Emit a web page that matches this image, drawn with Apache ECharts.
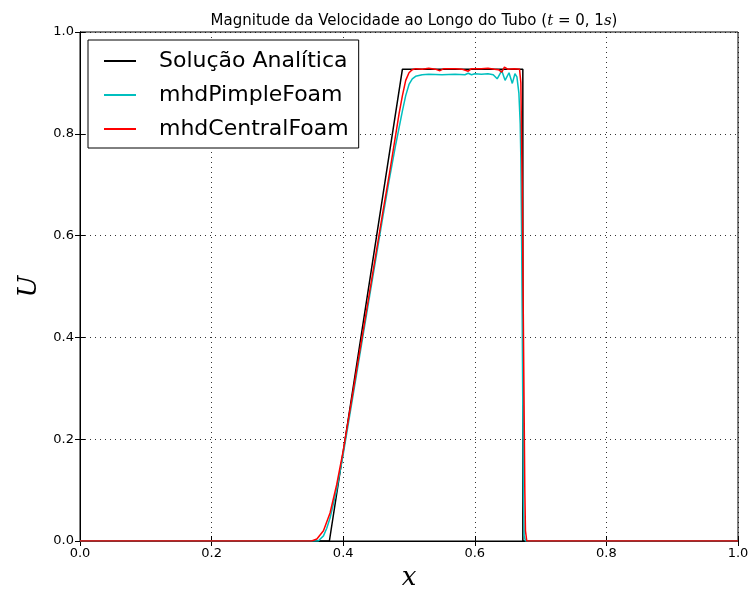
<!DOCTYPE html>
<html>
<head>
<meta charset="utf-8">
<script src="https://cdn.jsdelivr.net/npm/echarts@6/dist/echarts.min.js"></script>
<style>html,body{margin:0;padding:0;background:#fff}#c{width:749px;height:594px}</style>
</head>
<body>
<div id="c"></div>
<script>
// Tick labels
var xTicks = [0.0, 0.2, 0.4, 0.6, 0.8, 1.0];
var yTicks = [0.0, 0.2, 0.4, 0.6, 0.8, 1.0];
var seriesNames = ['Solução Analítica', 'mhdPimpleFoam', 'mhdCentralFoam'];

// Analytic solution
var analyticX = [0.0, 0.379, 0.490, 0.673, 0.673, 1.0];
var analyticU = [0.0, 0.0, 0.927, 0.927, 0.0, 0.0];

// mhdPimpleFoam
var pimpleX = [0.0, 0.362, 0.37, 0.375, 0.38, 0.39, 0.40, 0.42, 0.44, 0.46, 0.47, 0.48, 0.49, 0.495, 0.50, 0.505, 0.51, 0.52, 0.53, 0.55, 0.57, 0.585, 0.59, 0.595, 0.60, 0.61, 0.62, 0.628, 0.634, 0.641, 0.646, 0.652, 0.657, 0.661, 0.664, 0.667, 0.669, 0.670, 0.671, 0.672, 0.673, 0.674, 0.675, 0.677, 1.0];
var pimpleU = [0.0, 0.0, 0.01, 0.025, 0.045, 0.10, 0.17, 0.325, 0.48, 0.635, 0.71, 0.78, 0.845, 0.875, 0.897, 0.908, 0.913, 0.916, 0.917, 0.916, 0.917, 0.916, 0.919, 0.916, 0.918, 0.917, 0.918, 0.916, 0.908, 0.924, 0.905, 0.920, 0.899, 0.918, 0.912, 0.88, 0.82, 0.75, 0.62, 0.45, 0.25, 0.08, 0.01, 0.0, 0.0];

// mhdCentralFoam
var centralX = [0.0, 0.352, 0.36, 0.37, 0.38, 0.39, 0.40, 0.42, 0.44, 0.46, 0.47, 0.48, 0.485, 0.49, 0.495, 0.50, 0.505, 0.51, 0.52, 0.53, 0.54, 0.547, 0.553, 0.57, 0.58, 0.59, 0.595, 0.61, 0.62, 0.63, 0.636, 0.641, 0.645, 0.65, 0.66, 0.668, 0.670, 0.672, 0.674, 0.676, 0.677, 0.679, 1.0];
var centralU = [0.0, 0.0, 0.004, 0.02, 0.055, 0.11, 0.177, 0.333, 0.488, 0.644, 0.72, 0.80, 0.84, 0.875, 0.905, 0.92, 0.926, 0.928, 0.927, 0.929, 0.927, 0.924, 0.928, 0.928, 0.927, 0.923, 0.928, 0.928, 0.929, 0.927, 0.926, 0.921, 0.931, 0.927, 0.928, 0.927, 0.90, 0.70, 0.40, 0.10, 0.02, 0.0, 0.0];

function pairs(xs, ys) { return xs.map(function (x, i) { return [x, ys[i]]; }); }

var chart = echarts.init(document.getElementById('c'), null, { renderer: 'canvas' });
var sans = 'DejaVu Sans';
var mathFont = 'DejaVu Serif';

var splitLine = { show: true, lineStyle: { color: '#000', width: 1, type: [1, 4], opacity: 0.8 } };
var tick = { show: true, inside: true, length: 5, lineStyle: { color: '#000', width: 1 } };

chart.setOption({
  animation: false,
  backgroundColor: '#fff',
  title: {
    text: 'Magnitude da Velocidade ao Longo do Tubo ({m|t} = 0, 1{m|s})',
    left: 409, textAlign: 'center', top: 9,
    textStyle: {
      fontFamily: sans, fontSize: 15, fontWeight: 'normal', color: '#000',
      rich: { m: { fontFamily: mathFont, fontStyle: 'italic', fontSize: 15, color: '#000' } }
    }
  },
  grid: { left: 80, right: 11, top: 32, bottom: 53, show: true, borderColor: '#000', borderWidth: 1, outerBoundsMode: 'none', containLabel: false },
  legend: {
    data: seriesNames,
    orient: 'vertical', left: 88, top: 40,
    backgroundColor: '#fff', borderColor: '#000', borderWidth: 1,
    padding: [10, 10, 8, 16],
    icon: 'rect',
    itemWidth: 32, itemHeight: 2, itemGap: 12,
    textStyle: { fontFamily: sans, fontSize: 22, color: '#000', padding: [0, 0, 0, 18] }
  },
  xAxis: [{
    type: 'value', min: 0, max: 1, interval: 0.2, position: 'bottom',
    name: 'x', nameLocation: 'middle', nameGap: 21,
    nameTextStyle: { fontFamily: mathFont, fontStyle: 'italic', fontSize: 26, color: '#000' },
    axisLine: { show: true, lineStyle: { color: '#000' } },
    axisTick: tick,
    axisLabel: { color: '#000', fontFamily: sans, fontSize: 13, margin: 6, formatter: function (v) { return v.toFixed(1); } },
    splitLine: splitLine
  }, {
    type: 'value', min: 0, max: 1, interval: 0.2, position: 'top',
    axisLine: { show: true, lineStyle: { color: '#000' } },
    axisTick: tick, axisLabel: { show: false }, splitLine: { show: false }
  }],
  yAxis: [{
    type: 'value', min: 0, max: 1, interval: 0.2, position: 'left',
    name: 'U', nameLocation: 'middle', nameGap: 33,
    nameTextStyle: { fontFamily: mathFont, fontStyle: 'italic', fontSize: 26, color: '#000' },
    axisLine: { show: true, lineStyle: { color: '#000' } },
    axisTick: tick,
    axisLabel: { color: '#000', fontFamily: sans, fontSize: 13, margin: 6, formatter: function (v) { return v.toFixed(1); } },
    splitLine: splitLine
  }, {
    type: 'value', min: 0, max: 1, interval: 0.2, position: 'right',
    axisLine: { show: true, lineStyle: { color: '#000' } },
    axisTick: tick, axisLabel: { show: false }, splitLine: { show: false }
  }],
  series: [
    { name: seriesNames[0], type: 'line', data: pairs(analyticX, analyticU), symbol: 'none', lineStyle: { color: '#000', width: 1.5 }, itemStyle: { color: '#000' }, z: 3 },
    { name: seriesNames[1], type: 'line', data: pairs(pimpleX, pimpleU), symbol: 'none', lineStyle: { color: '#00BFBF', width: 1.5 }, itemStyle: { color: '#00BFBF' }, z: 4 },
    { name: seriesNames[2], type: 'line', data: pairs(centralX, centralU), symbol: 'none', lineStyle: { color: '#FF0000', width: 1.5 }, itemStyle: { color: '#FF0000' }, z: 5 }
  ]
});
</script>
</body>
</html>
